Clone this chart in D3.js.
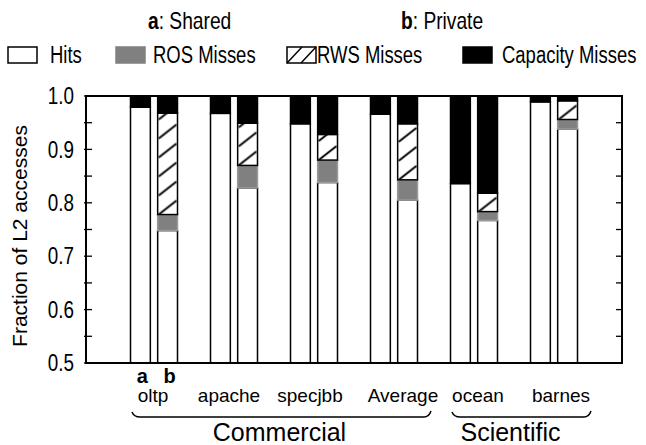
<!DOCTYPE html>
<html>
<head>
<meta charset="utf-8">
<script src="https://cdn.jsdelivr.net/npm/d3@7"></script>
<style>
  body { margin: 0; background: #fff; }
  text { font-family: "Liberation Sans", Arial, sans-serif; fill: #000; }
</style>
</head>
<body>
<div id="chart"></div>
<script>
// benchmarks and the two configurations (a = shared, b = private)
var groups = ["oltp", "apache", "specjbb", "Average", "ocean", "barnes"];
var configs = ["a", "b"];

// fraction of L2 accesses, [a, b] per benchmark
var hits     = [[0.979, 0.748], [0.9675, 0.828], [0.948, 0.838], [0.966, 0.805], [0.836, 0.767], [0.989, 0.938]];
var rosMiss  = [[0, 0.030], [0, 0.042], [0, 0.042], [0, 0.038], [0, 0.0165], [0, 0.018]];
var rwsMiss  = [[0, 0.190], [0, 0.079], [0, 0.048], [0, 0.105], [0, 0.0345], [0, 0.035]];
var capMiss  = [[0.021, 0.031], [0.0325, 0.052], [0.052, 0.072], [0.034, 0.052], [0.164, 0.182], [0.011, 0.009]];

var seriesNames = ["Hits", "ROS Misses", "RWS Misses", "Capacity Misses"];
var yTicks = [0.5, 0.6, 0.7, 0.8, 0.9, 1.0];
var sections = [
  {name: "Commercial", from: "oltp", to: "Average"},
  {name: "Scientific", from: "ocean", to: "barnes"}
];

var W = 646, H = 445;
var pLeft = 86, pRight = 622, pTop = 96, pBottom = 363;

var svg = d3.select("#chart").append("svg")
    .attr("width", W)
    .attr("height", H);

var defs = svg.append("defs");

// condensed text: place with a transform and squeeze horizontally
var narrow = function (sel, x, y, k) {
    return sel.attr("transform", "translate(" + x + "," + y + ") scale(" + k + ",1)");
};

var y = d3.scaleLinear().domain([0.5, 1]).range([pBottom, pTop]).clamp(true);
var x0 = d3.scaleBand().domain(groups).range([pLeft, pRight]).paddingInner(0).paddingOuter(0.35);
var x1 = d3.scaleBand().domain(configs).range([16.5, 63.5]).paddingInner(0.27);

var allSeries = [hits, rosMiss, rwsMiss, capMiss];

// build stacked segments
var segs = [];
groups.forEach(function (g, gi) {
    configs.forEach(function (c, ci) {
        var base = 0;
        allSeries.forEach(function (s, si) {
            var v = s[gi][ci];
            if (v > 0) {
                segs.push({g: g, c: c, s: si, y0: base, y1: base + v});
            }
            base += v;
        });
    });
});

// one hatch pattern per bar so the stripes line up with each bar
var hatchId = function (d) { return "hatch-" + d.g + "-" + d.c; };
segs.filter(function (d) { return d.s == 2; }).forEach(function (d) {
    var bx = x0(d.g) + x1(d.c);
    var p = defs.append("pattern")
        .attr("id", hatchId(d))
        .attr("patternUnits", "userSpaceOnUse")
        .attr("x", bx)
        .attr("y", y(d.y0) + 2)
        .attr("width", x1.bandwidth())
        .attr("height", 19);
    p.append("rect").attr("width", x1.bandwidth()).attr("height", 19).attr("fill", "#fff");
    p.append("line")
        .attr("x1", 1).attr("y1", 17)
        .attr("x2", x1.bandwidth() - 1).attr("y2", 3)
        .attr("stroke", "#000").attr("stroke-width", 2);
});

var fillFor = function (d) {
    if (d.s == 0) return "#fff";
    if (d.s == 1) return "#808080";
    if (d.s == 2) return "url(#" + hatchId(d) + ")";
    return "#000";
};
var strokeFor = function (d) {
    if (d.s == 1) return "#9a9a9a";
    return "#000";
};

svg.append("g").selectAll("rect")
    .data(segs)
    .enter()
    .append("rect")
    .attr("x", function (d) { return x0(d.g) + x1(d.c); })
    .attr("width", x1.bandwidth())
    .attr("y", function (d) { return y(d.y1); })
    .attr("height", function (d) { return y(d.y0) - y(d.y1); })
    .attr("fill", fillFor)
    .attr("stroke", strokeFor)
    .attr("stroke-width", 1.5);

// frame
svg.append("rect")
    .attr("x", pLeft).attr("y", pTop)
    .attr("width", pRight - pLeft).attr("height", pBottom - pTop)
    .attr("fill", "none").attr("stroke", "#000").attr("stroke-width", 2);

// ticks every 0.05, inward on both sides
var minor = d3.range(0.5, 1.0001, 0.05);
var tickG = svg.append("g").attr("stroke", "#000").attr("stroke-width", 1.3);
minor.forEach(function (v) {
    tickG.append("line").attr("x1", pLeft - 2).attr("x2", pLeft + 6).attr("y1", y(v)).attr("y2", y(v));
    tickG.append("line").attr("x1", pRight - 6).attr("x2", pRight).attr("y1", y(v)).attr("y2", y(v));
});

svg.append("g").selectAll("text")
    .data(yTicks)
    .enter()
    .append("text")
    .each(function (d) { narrow(d3.select(this), pLeft - 12, y(d), 0.82); })
    .attr("dy", "0.36em")
    .attr("text-anchor", "end")
    .style("font-size", "23px")
    .text(function (d) { return d3.format(".1f")(d); });

svg.append("text")
    .attr("transform", "translate(27," + 236 + ") rotate(-90)")
    .attr("text-anchor", "middle")
    .style("font-size", "21px")
    .text("Fraction of L2 accesses");

// a / b markers under the first benchmark
svg.append("g").selectAll("text")
    .data(configs)
    .enter()
    .append("text")
    .attr("x", function (d) { return x0(groups[0]) + x1(d) + x1.bandwidth() / 2 + 2; })
    .attr("y", 383)
    .attr("text-anchor", "middle")
    .style("font-size", "20px")
    .style("font-weight", "bold")
    .text(function (d) { return d; });

// benchmark labels (hand placed a little off centre in the figure)
var labelDx = [-1, -5, -4, 9, 4, 7];
svg.append("g").selectAll("text")
    .data(groups)
    .enter()
    .append("text")
    .attr("x", function (d, i) { return x0(d) + x0.bandwidth() / 2 + labelDx[i]; })
    .attr("y", 402)
    .attr("text-anchor", "middle")
    .style("font-size", "19px")
    .text(function (d) { return d; });

// braces and section labels
var sectionDx = [-2, -11];
sections.forEach(function (s, i) {
    var a = x0(s.from) + x0.bandwidth() / 2 - 22;
    var b = x0(s.to) + x0.bandwidth() / 2 + 37;
    svg.append("path")
        .attr("d", "M" + a + ",412 Q" + (a + 2) + ",417 " + (a + 8) + ",417 L" + (b - 7) + ",417 Q" + (b - 2) + ",417 " + b + ",411")
        .attr("fill", "none")
        .attr("stroke", "#000")
        .attr("stroke-width", 1.5);
    svg.append("text")
        .attr("x", (a + b) / 2 + sectionDx[i])
        .attr("y", 441)
        .attr("text-anchor", "middle")
        .style("font-size", "25px")
        .text(s.name);
});

// header: configuration key
var key = [{k: "a", t: ": Shared", x: 148}, {k: "b", t: ": Private", x: 401}];
key.forEach(function (d) {
    var t = narrow(svg.append("text"), d.x, 29, 0.8)
        .style("font-size", "24px");
    t.append("tspan").style("font-weight", "bold").text(d.k);
    t.append("tspan").text(d.t);
});

// legend
var legendX = [8, 116, 287, 463];
var legendTx = [42, 37, 30, 39];
var lg = svg.append("g").selectAll("g")
    .data(seriesNames)
    .enter()
    .append("g")
    .attr("transform", function (d, i) { return "translate(" + legendX[i] + ",47)"; });

lg.append("rect")
    .attr("width", 29)
    .attr("height", 16)
    .attr("fill", function (d, i) { return i == 0 ? "#fff" : i == 1 ? "#808080" : i == 2 ? "#fff" : "#000"; })
    .attr("stroke", function (d, i) { return i == 1 ? "#808080" : "#000"; })
    .attr("stroke-width", 1.5);

lg.filter(function (d, i) { return i == 2; })
    .selectAll("line")
    .data([0, 14])
    .enter()
    .append("line")
    .attr("x1", function (d) { return d; })
    .attr("y1", 16)
    .attr("x2", function (d) { return d + 15; })
    .attr("y2", 0)
    .attr("stroke", "#000")
    .attr("stroke-width", 1.5);

lg.append("text")
    .each(function (d, i) { narrow(d3.select(this), legendTx[i], 16, 0.77); })
    .style("font-size", "24px")
    .text(function (d) { return d; });
</script>
</body>
</html>
